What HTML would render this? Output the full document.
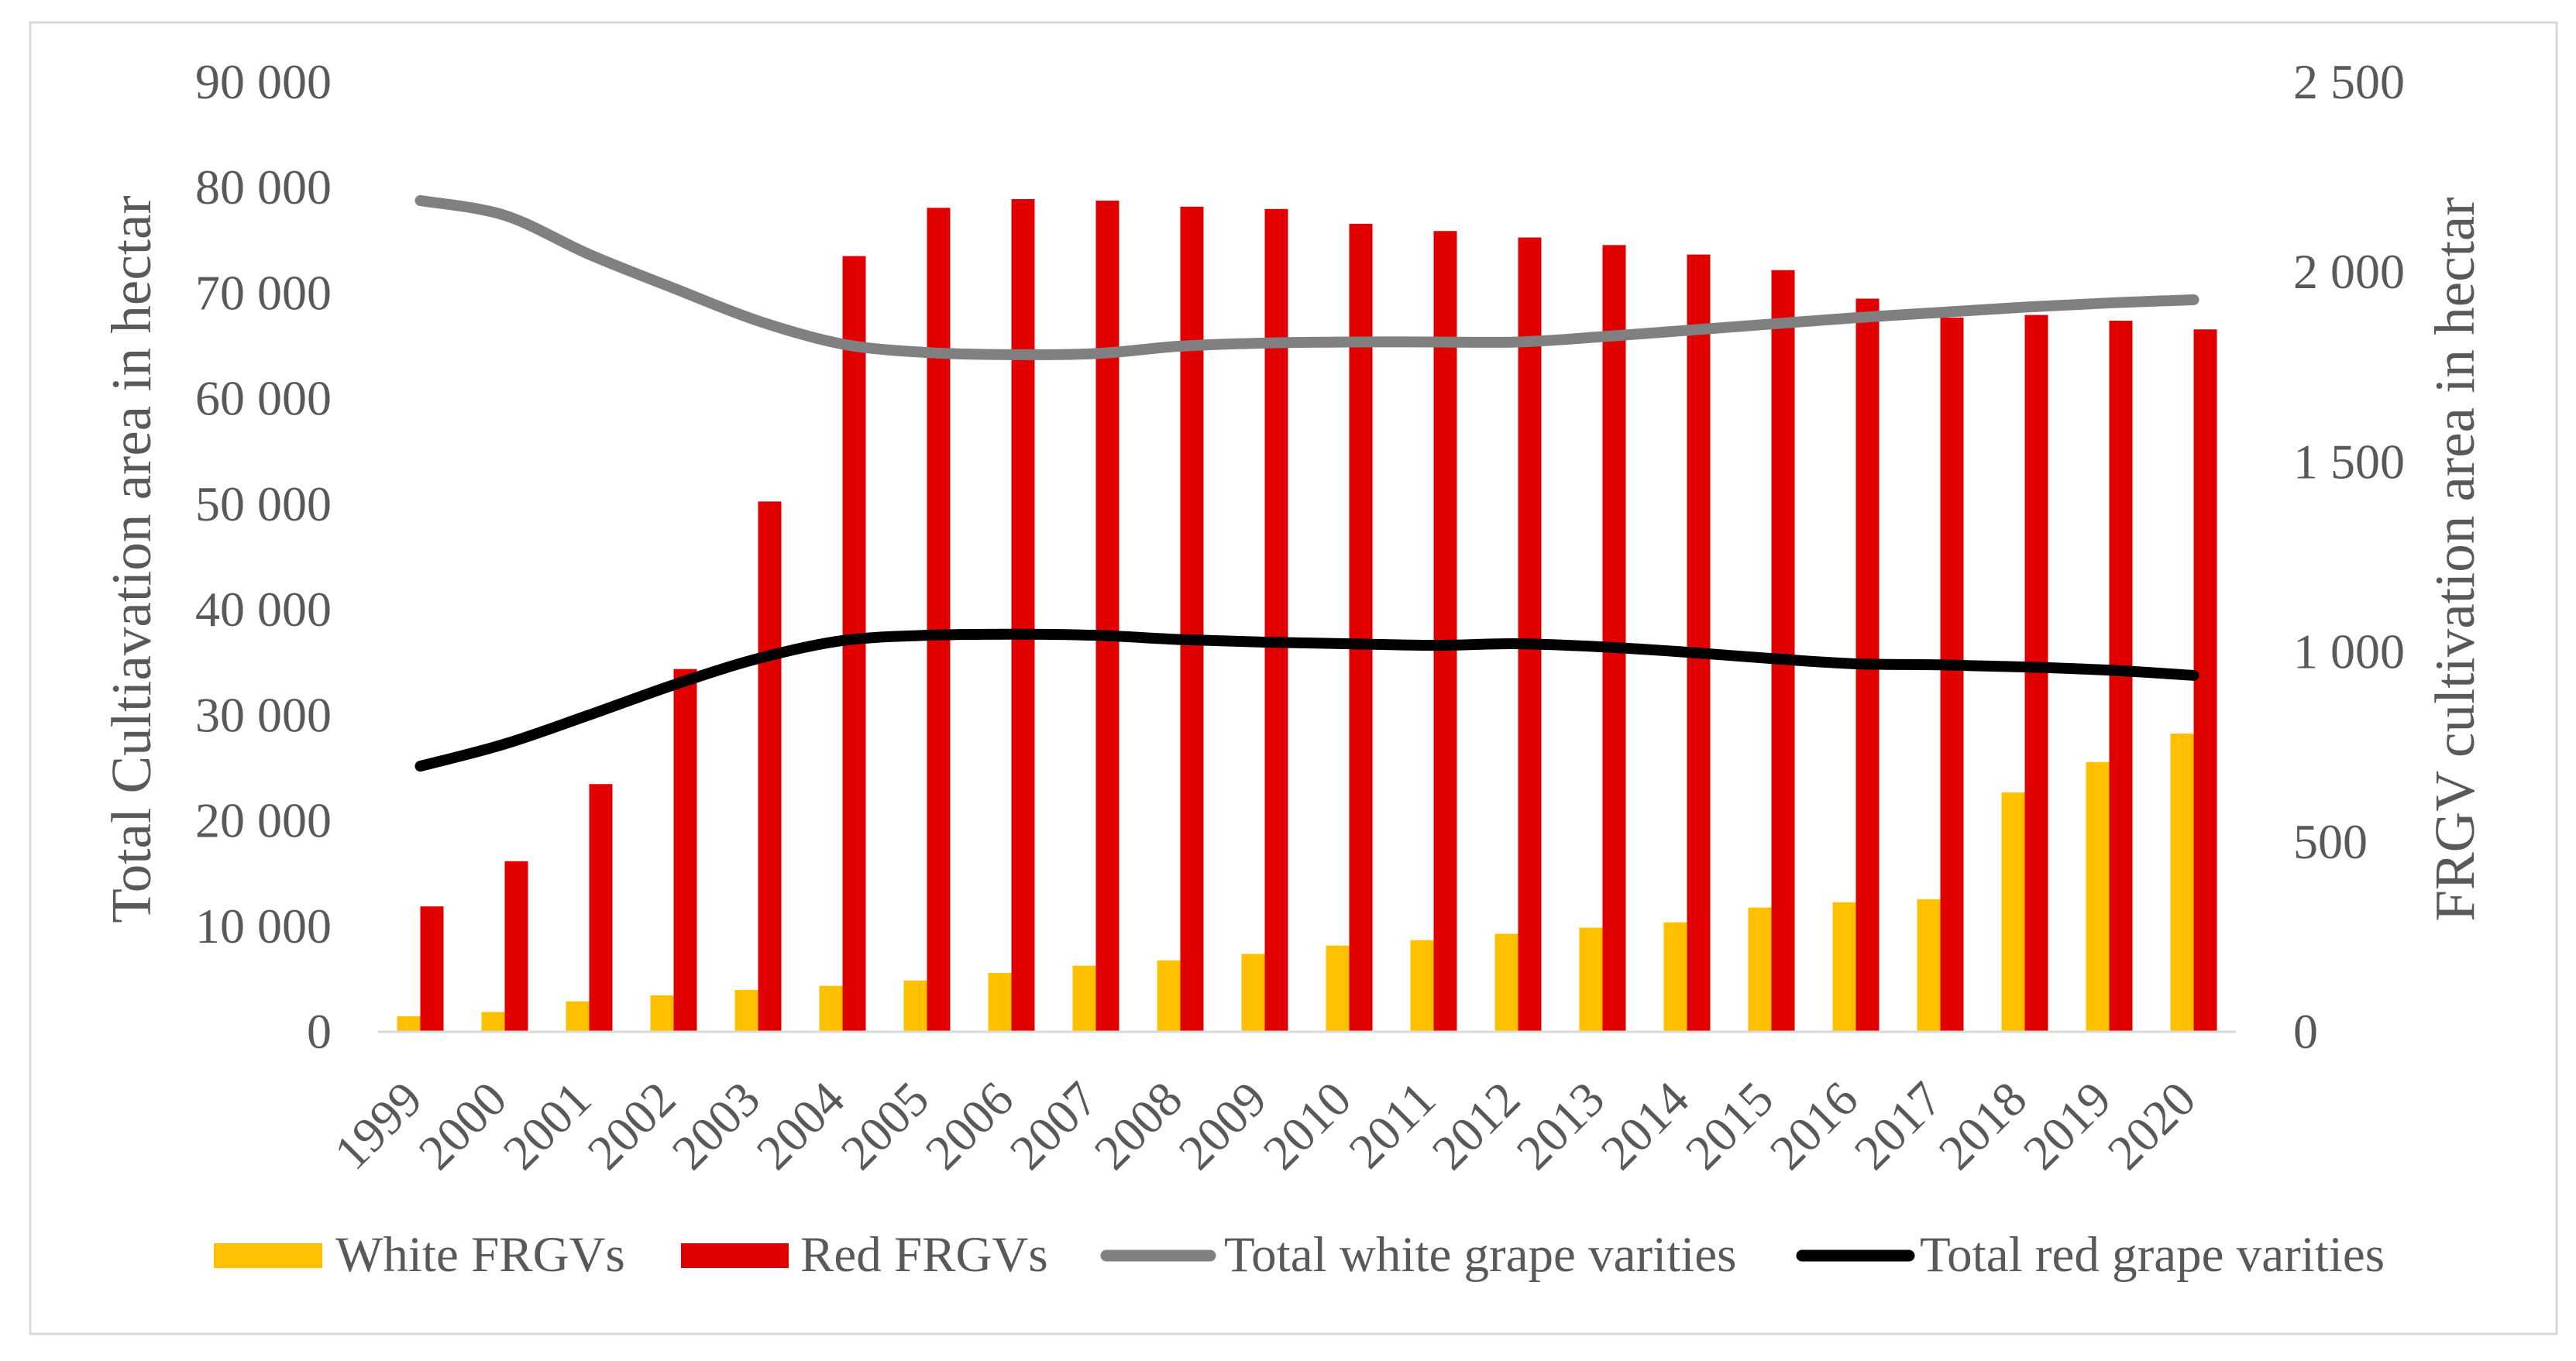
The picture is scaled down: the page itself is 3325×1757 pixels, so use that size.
<!DOCTYPE html>
<html><head><meta charset="utf-8"><style>
html,body{margin:0;padding:0;background:#fff;}
svg{display:block;font-family:"Liberation Serif",serif;}
</style></head><body>
<svg id="chart" width="3325" height="1757" viewBox="0 0 3325 1757" xmlns="http://www.w3.org/2000/svg">
<rect x="39" y="29" width="3261" height="1693" fill="#fff" stroke="#d9d9d9" stroke-width="3"/>
<g id="plot"></g>
<text transform="translate(194,722) rotate(-90)" text-anchor="middle" font-size="73" fill="#595959">Total Cultiavation area in hectar</text>
<text transform="translate(3193,722) rotate(-90)" text-anchor="middle" font-size="73" fill="#595959">FRGV cultivation area in hectar</text>
<g>
<g>
<rect x="276" y="1605" width="140" height="32" fill="#ffc000"/>
<text x="433" y="1641" font-size="65" fill="#595959">White FRGVs</text></g>
<g>
<rect x="879" y="1605" width="139" height="32" fill="#e00000"/>
<text x="1033" y="1641" font-size="65" fill="#595959">Red FRGVs</text></g>
<g>
<line x1="1428" y1="1621" x2="1562" y2="1621" stroke="#808080" stroke-width="15" stroke-linecap="round"/>
<text x="1580" y="1641" font-size="65" fill="#595959">Total white grape varities</text></g>
<g>
<line x1="2326" y1="1621" x2="2464" y2="1621" stroke="#000" stroke-width="15" stroke-linecap="round"/>
<text x="2478" y="1641" font-size="65" fill="#595959">Total red grape varities</text></g>
</g>
</svg>
<script>
const years = ["1999","2000","2001","2002","2003","2004","2005","2006","2007","2008","2009","2010","2011","2012","2013","2014","2015","2016","2017","2018","2019","2020"];
const whiteFRGV = [39,50,78,94,108,119,133,153,172,186,203,225,239,256,272,286,325,339,347,628,708,783];
const redFRGV = [328,447,650,953,1394,2040,2167,2190,2186,2170,2164,2125,2106,2089,2069,2044,2003,1928,1878,1885,1870,1847];
const totalWhite = [78700,77300,73600,70400,67300,65100,64300,64100,64200,64900,65200,65300,65300,65300,65800,66400,67000,67600,68100,68600,69000,69300];
const totalRed = [25100,27200,29950,32800,35300,37000,37500,37600,37500,37100,36850,36700,36550,36700,36400,35900,35300,34800,34700,34500,34200,33700];
const leftTicks = [0,10000,20000,30000,40000,50000,60000,70000,80000,90000];
const leftTickLabels = ["0","10 000","20 000","30 000","40 000","50 000","60 000","70 000","80 000","90 000"];
const rightTicks = [0,500,1000,1500,2000,2500];
const rightTickLabels = ["0","500","1 000","1 500","2 000","2 500"];

const NS="http://www.w3.org/2000/svg";
const plot=document.getElementById('plot');
const X0=488,X1=2886,Y0=1331,Y1=105;
const band=(X1-X0)/years.length;
const cx=i=>X0+band*(i+0.5);
const yL=v=>Y0-(v/90000)*(Y0-Y1);
const yR=v=>Y0-(v/2500)*(Y0-Y1);
function mk(tag,attrs){const e=document.createElementNS(NS,tag);for(const k in attrs)e.setAttribute(k,attrs[k]);plot.appendChild(e);return e;}
const BW=30;
whiteFRGV.forEach((v,i)=>{
  const r=mk('rect',{x:cx(i)-BW,y:yR(v),width:BW,height:Y0-yR(v),fill:'#ffc000'});
  
  
});
redFRGV.forEach((v,i)=>{
  const r=mk('rect',{x:cx(i),y:yR(v),width:BW,height:Y0-yR(v),fill:'#e00000'});
  
  
});
const ax=mk('line',{x1:X0,y1:Y0+1,x2:X1,y2:Y0+1,stroke:'#d9d9d9','stroke-width':3});


function smooth(vals){
  const p=vals.map((v,i)=>[cx(i),yL(v)]);
  let d='M'+p[0][0]+','+p[0][1];
  for(let i=0;i<p.length-1;i++){
    const a=p[Math.max(0,i-1)],b=p[i],c=p[i+1],e=p[Math.min(p.length-1,i+2)];
    const c1=[b[0]+(c[0]-a[0])/6,b[1]+(c[1]-a[1])/6];
    const c2=[c[0]-(e[0]-b[0])/6,c[1]-(e[1]-b[1])/6];
    d+=' C'+c1[0]+','+c1[1]+' '+c2[0]+','+c2[1]+' '+c[0]+','+c[1];
  }
  return d;
}
const lw=mk('path',{d:smooth(totalWhite),fill:'none',stroke:'#808080','stroke-width':14,'stroke-linecap':'round','stroke-linejoin':'round'});


const lr=mk('path',{d:smooth(totalRed),fill:'none',stroke:'#000','stroke-width':14,'stroke-linecap':'round','stroke-linejoin':'round'});


leftTicks.forEach((v,i)=>{
  const t=mk('text',{x:428,y:yL(v)+22,'text-anchor':'end','font-size':64,fill:'#595959'});
  t.textContent=leftTickLabels[i];
  
  
});
rightTicks.forEach((v,i)=>{
  const t=mk('text',{x:2960,y:yR(v)+22,'text-anchor':'start','font-size':64,fill:'#595959'});
  t.textContent=rightTickLabels[i];
  
  
});
years.forEach((y,i)=>{
  const t=mk('text',{transform:'translate('+(cx(i)+6)+',1423) rotate(-45)','text-anchor':'end','font-size':64,fill:'#595959'});
  t.textContent=y;
  
  
});
</script>
</body></html>
